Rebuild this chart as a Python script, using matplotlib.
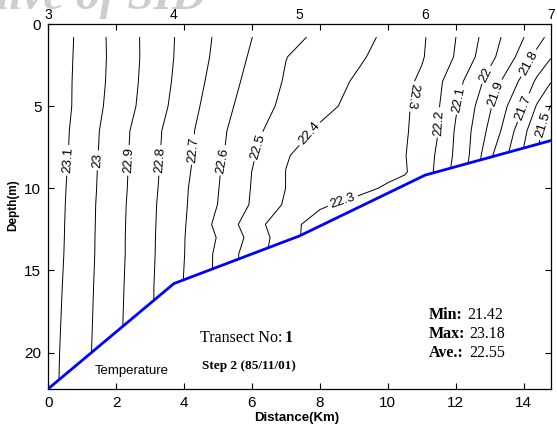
import numpy as np
import matplotlib
matplotlib.use('Agg')
import matplotlib.pyplot as plt
from matplotlib.patches import Polygon

plt.rcParams['font.family'] = ['Liberation Sans', 'DejaVu Sans']

# grid of the section (distance along transect, depth)
dist_km = [0, 1, 2, 3, 4, 5, 6, 7, 8, 9, 10, 10.5, 11, 11.5, 12, 12.5, 13, 13.5, 14, 14.4, 14.8]
depth_m = [0.8, 2, 3.5, 5, 6.5, 8, 9, 10, 11, 12.2, 13, 14, 16, 18, 20, 22.2]

# temperature (deg C), one row per depth
temp = [
    [23.18, 23.073, 22.969, 22.869, 22.773, 22.684, 22.601, 22.534, 22.478, 22.434, 22.383, 22.348, 22.313, 22.261, 22.201, 22.129, 22.052, 21.975, 21.903, 21.835, 21.771],
    [23.174, 23.072, 22.971, 22.869, 22.770, 22.677, 22.587, 22.502, 22.460, 22.419, 22.368, 22.338, 22.308, 22.256, 22.192, 22.113, 22.029, 21.948, 21.855, 21.773, 21.707],
    [23.17, 23.07, 22.968, 22.864, 22.762, 22.661, 22.569, 22.491, 22.443, 22.394, 22.344, 22.32, 22.285, 22.218, 22.138, 22.053, 21.963, 21.868, 21.769, 21.681, 21.605],
    [23.176, 23.066, 22.96, 22.857, 22.749, 22.644, 22.549, 22.477, 22.426, 22.378, 22.335, 22.313, 22.273, 22.205, 22.112, 22.015, 21.914, 21.804, 21.702, 21.59, 21.497],
    [23.17, 23.057, 22.944, 22.835, 22.733, 22.626, 22.527, 22.445, 22.387, 22.356, 22.325, 22.309, 22.269, 22.199, 22.09, 21.991, 21.877, 21.76, 21.625, 21.527, 21.436],
    [23.167, 23.053, 22.94, 22.831, 22.728, 22.619, 22.511, 22.404, 22.373, 22.346, 22.318, 22.304, 22.254, 22.183, 22.081, 21.98, 21.821, 21.71, 21.589, 21.502, 21.42],
    [23.162, 23.049, 22.938, 22.828, 22.722, 22.608, 22.499, 22.399, 22.373, 22.347, 22.32, 22.307, 22.262, 22.171, 22.066, 21.965, 21.801, 21.699, 21.578, 21.49, 21.42],
    [23.158, 23.047, 22.936, 22.826, 22.714, 22.603, 22.495, 22.399, 22.362, 22.325, 22.29, 22.27, 22.25, 22.17, 22.065, 21.965, 21.795, 21.695, 21.578, 21.49, 21.42],
    [23.156, 23.044, 22.933, 22.821, 22.711, 22.598, 22.49, 22.387, 22.31, 22.28, 22.27, 22.26, 22.25, 22.17, 22.065, 21.965, 21.795, 21.695, 21.578, 21.49, 21.42],
    [23.153, 23.043, 22.931, 22.819, 22.707, 22.575, 22.449, 22.325, 22.27, 22.27, 22.265, 22.26, 22.25, 22.17, 22.065, 21.965, 21.795, 21.695, 21.578, 21.49, 21.42],
    [23.152, 23.042, 22.93, 22.818, 22.703, 22.594, 22.471, 22.338, 22.25, 22.27, 22.265, 22.26, 22.25, 22.17, 22.065, 21.965, 21.795, 21.695, 21.578, 21.49, 21.42],
    [23.15, 23.041, 22.93, 22.817, 22.702, 22.581, 22.448, 22.34, 22.26, 22.26, 22.26, 22.26, 22.25, 22.17, 22.065, 21.965, 21.795, 21.695, 21.578, 21.49, 21.42],
    [23.144, 23.037, 22.926, 22.813, 22.696, 22.58, 22.45, 22.34, 22.26, 22.26, 22.26, 22.26, 22.25, 22.17, 22.065, 21.965, 21.795, 21.695, 21.578, 21.49, 21.42],
    [23.139, 23.034, 22.922, 22.812, 22.696, 22.58, 22.45, 22.34, 22.26, 22.26, 22.26, 22.26, 22.25, 22.17, 22.065, 21.965, 21.795, 21.695, 21.578, 21.49, 21.42],
    [23.135, 23.03, 22.92, 22.81, 22.696, 22.58, 22.45, 22.34, 22.26, 22.26, 22.26, 22.26, 22.25, 22.17, 22.065, 21.965, 21.795, 21.695, 21.578, 21.49, 21.42],
    [23.132, 23.028, 22.918, 22.81, 22.696, 22.58, 22.45, 22.34, 22.26, 22.26, 22.26, 22.26, 22.25, 22.17, 22.065, 21.965, 21.795, 21.695, 21.578, 21.49, 21.42],
]

levels = [21.5, 21.6, 21.7, 21.8, 21.9, 22.0, 22.1, 22.2, 22.3, 22.4,
          22.5, 22.6, 22.7, 22.8, 22.9, 23.0, 23.1]

# stations and bottom depth
station_km = [0, 3.7, 7.4, 11.1, 14.8]
station_no = ['3', '4', '5', '6', '7']
bottom_m = [22.2, 15.8, 12.9, 9.2, 7.1]

# where the contour labels sit
label_pos = [(0.59, 8.3), (1.47, 8.3), (2.35, 8.3), (3.28, 8.3), (4.31, 7.65),
             (5.15, 8.3), (6.18, 7.45), (7.65, 6.6), (10.7, 4.4), (8.68, 10.8),
             (11.57, 6.0), (12.1, 4.6), (12.9, 3.1), (13.12, 4.2), (14.17, 2.4),
             (14.02, 5.1), (14.51, 6.1)]

W, H = 557, 432


def px(x, y):
    return x / W, 1 - y / H


fig = plt.figure(figsize=(W / 100, H / 100), dpi=100)
ax = fig.add_axes([48.3 / W, 1 - 388.7 / H, (550.7 - 48.3) / W, (388.7 - 24) / H])

cs = ax.contour(dist_km, depth_m, temp, levels=levels, colors='k', linewidths=0.7)
labels = ax.clabel(cs, manual=label_pos, fmt='%g', fontsize=9.5, inline=True, inline_spacing=3)

# the y axis is flipped, so mirror the label angles and let them read upwards
for i, t in enumerate(labels):
    r = (-t.get_rotation()) % 360
    if 90 < r <= 270:
        r -= 180
    if i == 8:  # this one is upside down in the original
        r += 180
    t.set_rotation(r)

# clip contours to the water column
water = [(-1, -1), (16, -1), (16, bottom_m[-1])] + list(zip(station_km[::-1], bottom_m[::-1])) + [(-1, bottom_m[0])]
clip = Polygon(water, closed=True, transform=ax.transData)
cs.set_clip_path(clip)

ax.plot(station_km, bottom_m, color='#0000ff', lw=2, solid_capstyle='round', zorder=3)

ax.set_xlim(0, 14.8)
ax.set_ylim(22.2, 0)
ax.set_xticks([0, 2, 4, 6, 8, 10, 12, 14])
ax.set_yticks([0, 5, 10, 15, 20])
ax.tick_params(direction='in', length=4, width=0.8, top=True, right=True, labelsize=11, pad=5)
for s in ax.spines.values():
    s.set_linewidth(0.9)

# station numbers along the top
for x, s in zip(station_km, station_no):
    ax.text(x, -0.15, s, ha='center', va='bottom', fontsize=10, clip_on=False)

fig.text(*px(13, 205), 'Depth(m)', rotation=90, ha='center', va='center', fontsize=8.5, fontweight='bold')
fig.text(*px(297, 418), 'Distance(Km)', ha='center', va='center', fontsize=9.5, fontweight='bold')

ax.text(2.45, 21.14, 'Temperature', ha='center', va='center', fontsize=9.5)

serif = ['Liberation Serif', 'DejaVu Serif']
fig.text(*px(200, 338), 'Transect No: ', ha='left', va='center', fontsize=11.5, family=serif)
fig.text(*px(285, 338), '1', ha='left', va='center', fontsize=11.5, family=serif, fontweight='bold')
fig.text(*px(202, 366), 'Step 2 (85/11/01)', ha='left', va='center', fontsize=9.5, family=serif, fontweight='bold')

stats = [('Min:', '21.42', 315, 467), ('Max:', '23.18', 334, 469), ('Ave.:', '22.55', 353, 469)]
for name, val, y, xv in stats:
    fig.text(*px(429, y), name, ha='left', va='center', fontsize=11.5, family=serif, fontweight='bold')
    fig.text(*px(xv, y), val, ha='left', va='center', fontsize=11.5, family=serif)

# watermark at the top edge
fig.text(*px(207, 9), 'Archive of SID', ha='right', va='baseline', fontsize=34,
         family=serif, style='italic', fontweight='bold', color='#cdcdcd', zorder=0)

fig.savefig('out.png', dpi=100)
